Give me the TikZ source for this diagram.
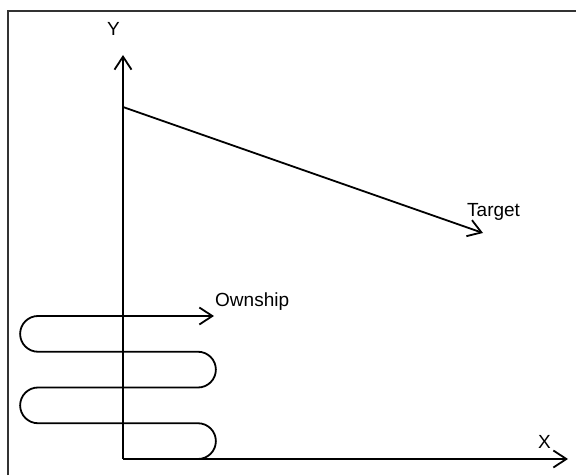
\documentclass[tikz,border=0pt]{standalone}
\usepackage{fontspec}
\setmainfont{Liberation Sans}
\usetikzlibrary{arrows.meta}
\begin{document}
\begin{tikzpicture}[x=1pt,y=1pt,
  axis/.style={line width=1.8pt,-{Straight Barb[length=13pt,width=17pt]}},
  track/.style={line width=1.8pt,-{Straight Barb[length=13pt,width=17pt]}},
  lbl/.style={anchor=base west,inner sep=0pt,font=\fontsize{19}{22}\selectfont},
  frame/.style={line width=1.5pt,draw=black!80}]
\useasboundingbox (0,0) rectangle (576,475);
% frame (only top and left edges visible)
\coordinate (fl) at (8,0);
\coordinate (ftl) at (8,464);
\coordinate (ftr) at (576,464);
\draw[frame] (fl) -- (ftl) -- (ftr);
% axes
\coordinate (O) at (123,16);
\coordinate (ytip) at (123,420);
\coordinate (xtip) at (568,16);
\draw[axis] (O) -- (ytip);
\draw[axis] (O) -- (xtip);
\node[lbl] (ylab) at (107,439) {Y};
\node[lbl] (xlab) at (538,27) {X};
% target
\coordinate (t0) at (123,368);
\coordinate (t1) at (483,242);
\draw[track] (t0) -- (t1);
\node[lbl] (tlab) at (467,259) {Target};
% ownship
\coordinate (s0) at (198,16);
\coordinate (s1) at (214,159);
\draw[track,line join=round] (s0) arc[start angle=-90,end angle=90,radius=17.875]
  -- (38,51.75) arc[start angle=270,end angle=90,radius=17.875]
  -- (198,87.5) arc[start angle=-90,end angle=90,radius=17.875]
  -- (38,123.25) arc[start angle=270,end angle=90,radius=17.875]
  -- (s1);
\node[lbl] (olab) at (215,169) {Ownship};
\end{tikzpicture}
\end{document}
